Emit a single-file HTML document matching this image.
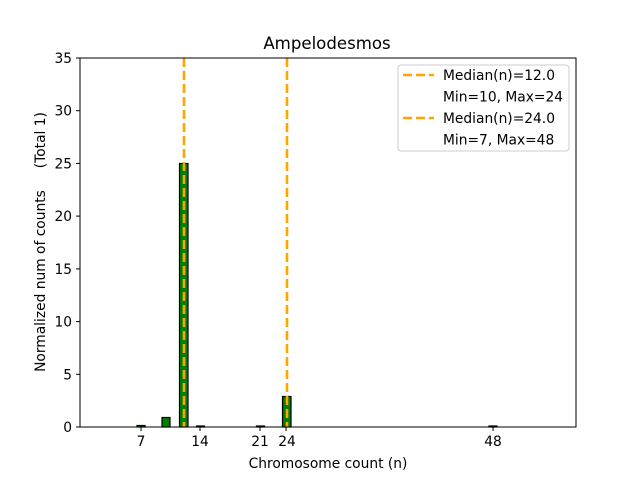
<!DOCTYPE html>
<html><head><style>body{margin:0;background:#fff}</style></head><body>
<svg width="640" height="480" xmlns="http://www.w3.org/2000/svg" font-family="DejaVu Sans, Liberation Sans, sans-serif">
<rect width="640" height="480" fill="#fff"/>
<g fill="#008000" stroke="#000" stroke-width="1.2">
<rect x="137" y="425.5" width="8" height="1.5"/>
<rect x="162" y="417.5" width="8" height="9.5"/>
<rect x="179.5" y="163.5" width="8.5" height="263.5"/>
<rect x="196.5" y="426" width="8" height="1"/>
<rect x="256.5" y="426" width="8" height="1"/>
<rect x="282.5" y="396.5" width="8.5" height="30.5"/>
<rect x="489" y="426" width="8" height="1"/>
</g>
<g stroke="#FFA500" stroke-width="2.6" stroke-dasharray="9,4">
<line x1="184" y1="58" x2="184" y2="427"/>
<line x1="287" y1="58" x2="287" y2="427"/>
</g>
<rect x="80" y="58" width="496" height="369" fill="none" stroke="#000" stroke-width="1"/>
<g stroke="#000">
<line x1="80" y1="427" x2="76" y2="427"/><line x1="80" y1="374.3" x2="76" y2="374.3"/>
<line x1="80" y1="321.6" x2="76" y2="321.6"/><line x1="80" y1="268.9" x2="76" y2="268.9"/>
<line x1="80" y1="216.1" x2="76" y2="216.1"/><line x1="80" y1="163.4" x2="76" y2="163.4"/>
<line x1="80" y1="110.7" x2="76" y2="110.7"/><line x1="80" y1="58" x2="76" y2="58"/>
<line x1="141" y1="427" x2="141" y2="431"/><line x1="200" y1="427" x2="200" y2="431"/>
<line x1="260" y1="427" x2="260" y2="431"/><line x1="286" y1="427" x2="286" y2="431"/>
<line x1="493" y1="427" x2="493" y2="431"/>
</g>
<g font-size="13.8" text-anchor="end">
<text x="72" y="432">0</text><text x="72" y="379.3">5</text><text x="72" y="326.6">10</text>
<text x="72" y="273.9">15</text><text x="72" y="221.1">20</text><text x="72" y="168.4">25</text>
<text x="72" y="115.7">30</text><text x="72" y="63">35</text>
</g>
<g font-size="13.8" text-anchor="middle">
<text x="141" y="446">7</text><text x="200" y="446">14</text><text x="260" y="446">21</text>
<text x="287" y="446">24</text><text x="493" y="446">48</text>
<text x="328" y="468">Chromosome count (n)</text>
<text x="327" y="49" font-size="16.6">Ampelodesmos</text>
<text transform="translate(45,242) rotate(-90)" xml:space="preserve">Normalized num of counts     (Total 1)</text>
</g>
<rect x="398" y="65" width="171" height="86" rx="3" fill="#fff" fill-opacity="0.8" stroke="#ccc"/>
<g stroke="#FFA500" stroke-width="2.6" stroke-dasharray="9,4">
<line x1="403" y1="75" x2="434" y2="75"/><line x1="403" y1="118" x2="434" y2="118"/>
</g>
<g font-size="13.8">
<text x="443" y="80">Median(n)=12.0</text><text x="443" y="101.5">Min=10, Max=24</text>
<text x="443" y="123">Median(n)=24.0</text><text x="443" y="144.5">Min=7, Max=48</text>
</g>
</svg>
</body></html>
